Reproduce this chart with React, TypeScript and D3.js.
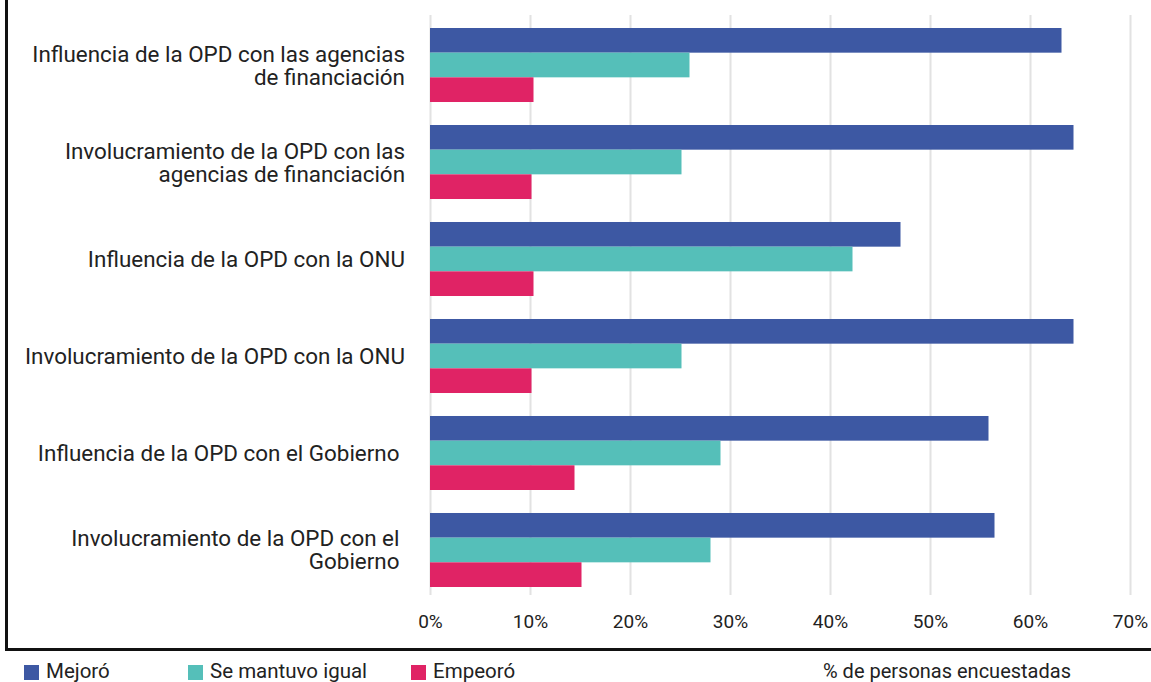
import React, { useEffect, useRef } from "react";
import * as d3 from "d3";

const categories: string[][] = [
  ["Influencia de la OPD con las agencias", "de financiación"],
  ["Involucramiento de la OPD con las", "agencias de financiación"],
  ["Influencia de la OPD con la ONU"],
  ["Involucramiento de la OPD con la ONU"],
  ["Influencia de la OPD con el Gobierno "],
  ["Involucramiento de la OPD con el ", "Gobierno "],
];
const mejoro = [63.1, 64.3, 47.0, 64.3, 55.8, 56.4];
const semantuvo = [25.9, 25.1, 42.2, 25.1, 29.0, 28.0];
const empeoro = [10.3, 10.1, 10.3, 10.1, 14.4, 15.1];
const seriesNames = ["Mejoró", "Se mantuvo igual", "Empeoró"];
const seriesColors = ["#3D58A3", "#55BFB9", "#E02365"];
const ticks = [0, 10, 20, 30, 40, 50, 60, 70];
const axisTitle = "% de personas encuestadas";

export default function App() {
  const ref = useRef<SVGSVGElement>(null);
  useEffect(() => {
    const svg = d3.select(ref.current);
    svg.selectAll("*").remove();
    const W = 1151;
    const font = "Roboto, 'Noto Sans', sans-serif";
    const x = d3.scaleLinear().domain([0, 70]).range([430.5, 1130.5]);
    const y = d3.scaleBand<number>().domain(d3.range(categories.length)).range([28, 587]).paddingInner(0.237).paddingOuter(0);
    const inner = d3.scaleBand<number>().domain([0, 1, 2]).range([0, y.bandwidth()]);
    const series = [mejoro, semantuvo, empeoro];

    // grid
    svg.append("g").selectAll("line").data(ticks).join("line")
      .attr("x1", d => x(d)).attr("x2", d => x(d))
      .attr("y1", 15).attr("y2", 595)
      .attr("stroke", "#e2e2e2").attr("stroke-width", 2);

    // bars
    series.forEach((s, si) => {
      svg.append("g").selectAll("rect").data(s).join("rect")
        .attr("x", x(0) - 0.5)
        .attr("y", (_, i) => (y(i) as number) + (inner(si) as number))
        .attr("width", d => x(d) - x(0) + 0.5)
        .attr("height", inner.bandwidth())
        .attr("fill", seriesColors[si]);
    });

    // category labels
    const lineH = 23;
    categories.forEach((lines, i) => {
      const cy = (y(i) as number) + y.bandwidth() / 2;
      const startBase = cy + 8 - ((lines.length - 1) * lineH) / 2;
      const t = svg.append("text")
        .attr("font-family", font).attr("font-size", 22.4)
        .attr("fill", "#222").attr("text-anchor", "end")
        .style("white-space", "pre");
      lines.forEach((ln, li) => {
        t.append("tspan").attr("x", 405).attr("y", startBase + li * lineH).text(ln);
      });
    });

    // tick labels
    svg.append("g").selectAll("text").data(ticks).join("text")
      .attr("x", d => x(d)).attr("y", 628)
      .attr("text-anchor", "middle")
      .attr("font-family", font).attr("font-size", 19).attr("fill", "#222")
      .text(d => `${d}%`);

    // frame
    svg.append("path")
      .attr("d", `M6.5,0 V649.5 H${W}`)
      .attr("fill", "none").attr("stroke", "#111").attr("stroke-width", 3);

    // legend
    const legX = [24, 188, 411];
    seriesNames.forEach((n, i) => {
      svg.append("rect").attr("x", legX[i]).attr("y", 665).attr("width", 15).attr("height", 15).attr("fill", seriesColors[i]);
      svg.append("text").attr("x", legX[i] + 22).attr("y", 678)
        .attr("font-family", font).attr("font-size", 20.5).attr("fill", "#222").text(n);
    });
    svg.append("text").attr("x", 947).attr("y", 678).attr("text-anchor", "middle")
      .attr("font-family", font).attr("font-size", 20).attr("fill", "#222").text(axisTitle);
  }, []);
  return (
    <svg ref={ref} width={1151} height={682} style={{ position: "absolute", left: 0, top: 0, background: "#fff" }} />
  );
}
